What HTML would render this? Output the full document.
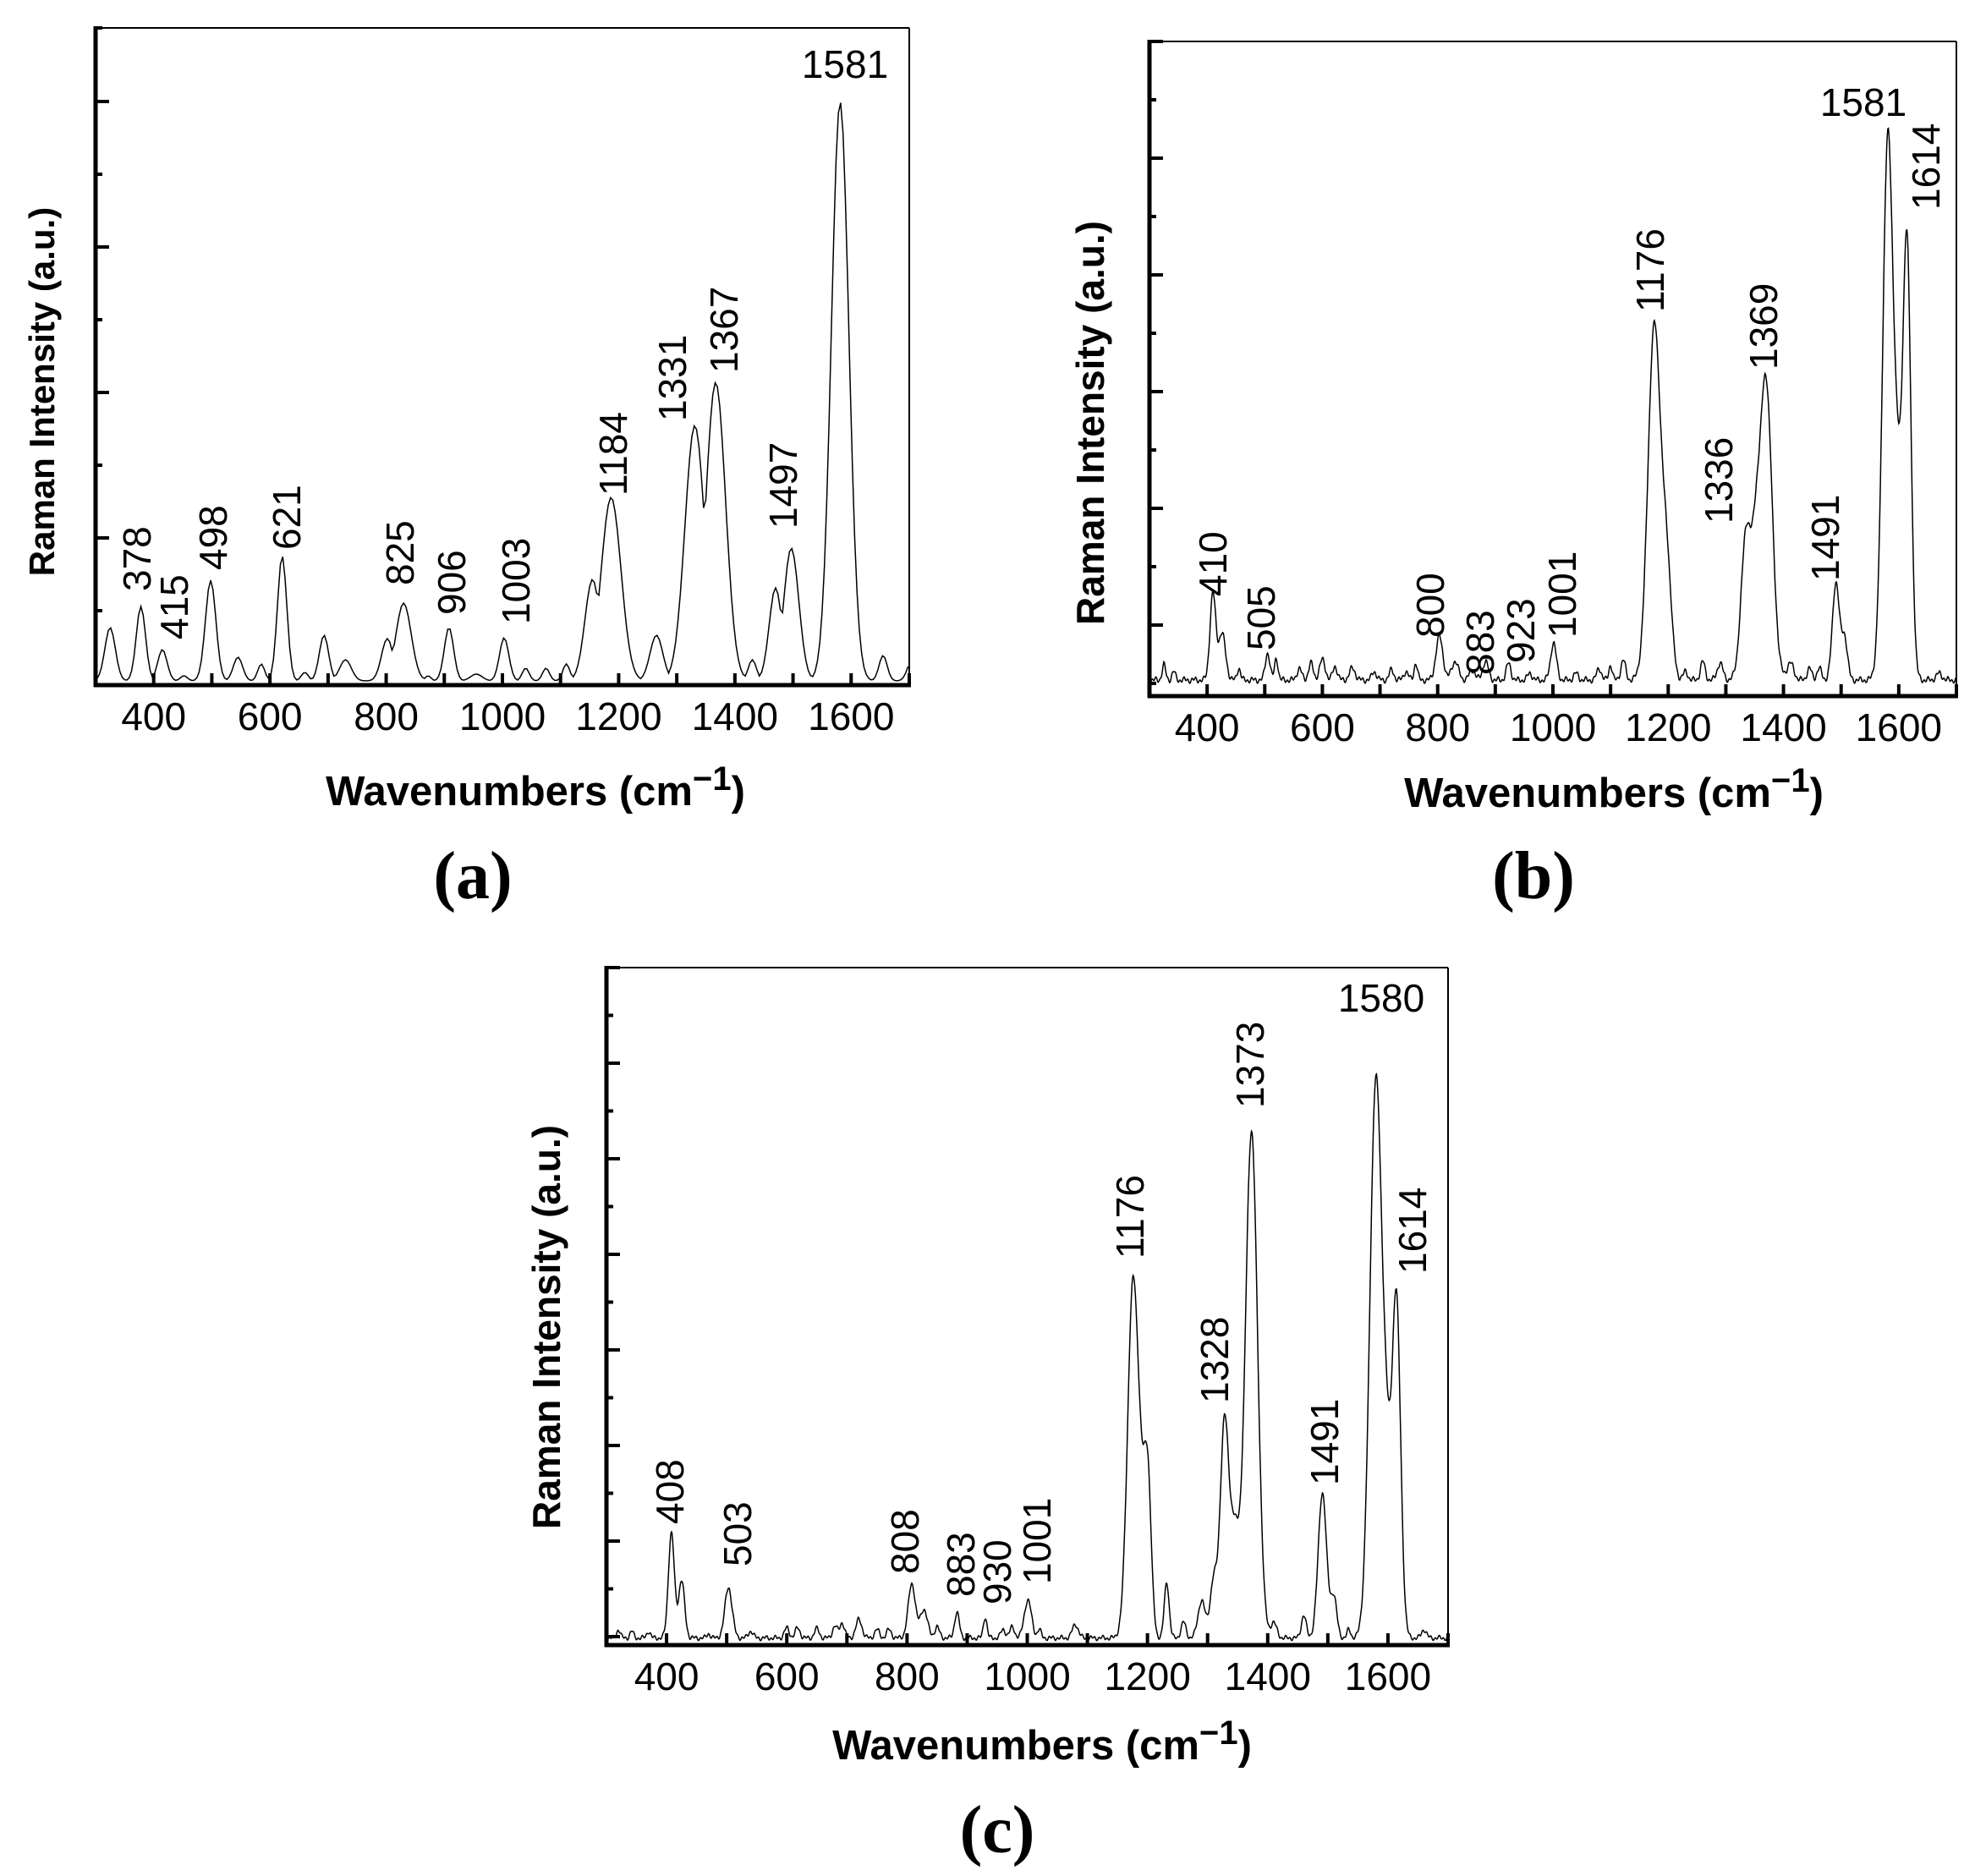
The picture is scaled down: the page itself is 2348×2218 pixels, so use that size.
<!DOCTYPE html>
<html><head><meta charset="utf-8"><style>
html,body{margin:0;padding:0;background:#fff}
svg{display:block}
text{font-family:"Liberation Sans",Arial,sans-serif;fill:#000}
.t{font-size:46px}
.ti{font-size:49px;font-weight:bold}
.yti{font-size:46px;font-weight:bold}
.pl{font-family:"Liberation Serif",serif;font-size:80px;font-weight:bold}
</style></head><body>
<svg id="s" width="2348" height="2218" xmlns="http://www.w3.org/2000/svg"></svg>
<script>
const S=document.getElementById('s');let out='';
function panel(P){
 const {L,R,T,B,base,peaks,step,yt,yst,labels,title}=P;
 const X=w=>L+(w-300)/1400*(R-L);
 let d='';
 for(let w=302;w<=1700;w+=step){
  let h=0;
  for(const p of peaks){const z=(w-p[0])/p[2];if(P.max)h=Math.max(h,p[1]*Math.exp(-z*z/2));else h+=p[1]*Math.exp(-z*z/2);}
  if(P.noise)h+=P.noise*(Math.sin(w*0.37)+Math.sin(w*0.91+1)+1.5);
  d+=(d?'L':'M')+X(w).toFixed(1)+' '+(base-h).toFixed(1);
 }
 out+=`<path d="${d}" fill="none" stroke="#000" stroke-width="1.5"/>`;
 out+=`<line x1="${L}" y1="${T}" x2="${R}" y2="${T}" stroke="#000" stroke-width="2"/>`;
 out+=`<line x1="${R}" y1="${T}" x2="${R}" y2="${B}" stroke="#000" stroke-width="2"/>`;
 out+=`<line x1="${L}" y1="${T-2}" x2="${L}" y2="${B+2}" stroke="#000" stroke-width="5"/>`;
 out+=`<line x1="${L-2}" y1="${B}" x2="${R+2}" y2="${B}" stroke="#000" stroke-width="5"/>`;
 for(let w=400;w<=1700;w+=100){out+=`<line x1="${X(w)}" y1="${B}" x2="${X(w)}" y2="${B-14}" stroke="#000" stroke-width="4"/>`;}
 for(let w=400;w<=1600;w+=200)out+=`<text class="t" x="${X(w)}" y="${B+53}" text-anchor="middle">${w}</text>`;
 let i=0;for(let y=yt;y<B-5;y+=yst/2,i++){const len=(i%2==0)?16:8;out+=`<line x1="${L}" y1="${y}" x2="${L+len}" y2="${y}" stroke="#000" stroke-width="4"/>`;}
 if(P.topTick)out+=`<line x1="${L}" y1="${T}" x2="${L+P.topTick}" y2="${T}" stroke="#000" stroke-width="4"/>`;
 for(const l of labels){
  if(l[3])out+=`<text class="t" x="${l[1]}" y="${l[2]}" text-anchor="middle">${l[0]}</text>`;
  else out+=`<text class="t" transform="translate(${l[1]+17},${l[2]}) rotate(-90)">${l[0]}</text>`;
 }
 out+=`<text class="ti" x="${title.x}" y="${title.y}" text-anchor="middle">Wavenumbers (cm<tspan font-size="40" dy="-18">−1</tspan><tspan dy="18">)</tspan></text>`;
 out+=`<text class="yti" style="font-size:${title.yf}px" transform="translate(${title.yx},${title.yy}) rotate(-90)" text-anchor="middle">Raman Intensity (a.u.)</text>`;
 out+=`<text class="pl" x="${title.px}" y="${title.py}" text-anchor="middle">(${title.p})</text>`;
}
panel({L:113,R:1075,T:33,B:810,base:805,step:4,max:true,yt:120,yst:172,topTick:8,
 peaks:[[325,63,9],[378,88,8],[415,37,8],[452,6,6],[498,119,9],[545,28,8],[585,20,6],[621,148,8],[660,10,6],[693,54,8],[730,25,10],[802,50,10],[830,92,13],[872,6,5],[908,63,8],[955,8,10],[1003,51,8],[1040,15,6],[1075,15,6],[1110,20,6],[1155,120,13],[1187,217,17],[1265,54,11],[1300,15,8],[1331,302,17],[1367,353,17],[1430,25,7],[1470,110,11],[1497,157,13],[1581,685,15],[1655,30,7],[1705,25,8]],
 labels:[['378',161,699],['415',205,756],['498',251,674],['621',338,650],['825',472,692],['906',533,727],['1003',609,738],['1184',724,586],['1331',794,498],['1367',855,441],['1497',925,625],['1581',999,92,1]],
 title:{x:633,y:952,yx:64,yy:463,yf:42,px:559,py:1062,p:'a'}});
panel({L:1359,R:2313,T:49,B:823,base:807,step:1,noise:2,yt:49,yst:138,
 peaks:[[325,18,3],[342,10,3],[410,102,5],[426,55,6],[455,14,3],[505,32,4],[520,26,3],[560,14,4],[580,20,4],[600,24,5],[622,16,4],[652,14,5],[690,10,4],[720,12,4],[745,10,4],[762,20,3],[803,52,6],[830,22,6],[860,12,5],[883,22,5],[923,20,4],[960,8,4],[1001,44,5],[1040,8,4],[1080,14,4],[1100,18,3],[1122,24,4],[1176,420,11],[1198,120,8],[1230,10,4],[1260,22,4],[1290,20,5],[1336,180,9],[1369,360,11],[1352,80,6],[1412,20,6],[1445,14,4],[1462,14,4],[1491,116,6],[1506,50,5],[1581,640,9],[1598,170,7],[1614,520,7],[1670,8,5]],
 labels:[['410',1433,705],['505',1490,769],['800',1690,754],['883',1749,798],['923',1797,784],['1001',1846,754],['1176',1950,369],['1336',2031,619],['1369',2084,437],['1491',2157,687],['1581',2203,137,1],['1614',2276,248]],
 title:{x:1908,y:954,yx:1305,yy:500,yf:46,px:1813,py:1062,p:'b'}});
panel({L:717,R:1712,T:1144,B:1945,base:1939,step:1,noise:1.6,yt:1144,yst:113,
 peaks:[[320,10,3],[342,8,3],[370,8,3],[408,124,5],[425,68,5],[470,5,3],[503,60,6],[540,8,4],[600,12,4],[618,12,4],[650,11,4],[680,14,4],[692,18,4],[720,22,5],[750,10,4],[770,10,4],[808,64,6],[828,34,6],[850,13,4],[883,30,4],[930,25,3],[960,10,4],[975,13,4],[1001,45,6],[1020,10,3],[1080,16,5],[1176,420,9],[1200,200,6],[1189,70,6],[1232,66,4],[1260,19,4],[1290,44,6],[1310,66,6],[1328,250,7],[1345,120,8],[1373,600,10],[1410,18,5],[1460,27,4],[1491,172,7],[1510,48,5],[1535,10,3],[1580,660,10],[1598,150,7],[1614,400,7],[1660,10,4]],
 labels:[['408',791,1802],['503',871,1852],['808',1069,1861],['883',1135,1888],['930',1178,1897],['1001',1225,1873],['1176',1335,1488],['1328',1435,1659],['1373',1477,1310],['1491',1565,1756],['1580',1633,1196,1],['1614',1669,1506]],
 title:{x:1232,y:2080,yx:662,yy:1569,yf:46,px:1179,py:2190,p:'c'}});
S.innerHTML=out;
</script>
</body></html>
